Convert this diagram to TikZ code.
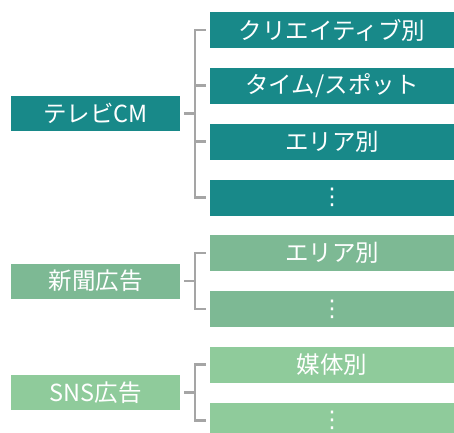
\documentclass[tikz,border=0pt]{standalone}
\usepackage{fontspec}
\setmainfont{Noto Sans CJK JP}
\newfontfamily\symfont{DejaVu Sans}
\definecolor{tvc}{RGB}{24,137,137}
\definecolor{npc}{RGB}{125,185,148}
\definecolor{snsc}{RGB}{143,203,155}
\definecolor{brc}{RGB}{165,165,165}
\begin{document}
\begin{tikzpicture}[x=1pt,y=-1pt,
  box/.style={rectangle, inner sep=0pt, text=white, font=\fontsize{23.5}{23.5}\selectfont},
  parent/.style={box, minimum width=169pt, minimum height=35pt},
  child/.style={box, minimum width=244pt, minimum height=36pt},
  dots/.style={font=\symfont\fontsize{23}{23}\selectfont},
  br/.style={draw=brc, line width=2.6pt, line join=miter, line cap=butt}]
\useasboundingbox (0,0) rectangle (454,432);
\clip (0,0) rectangle (454,432);
% parents
\node[parent, fill=tvc] (tv) at (95.5,113.5) {テレビCM};
\node[parent, fill=npc] (np) at (95.5,281) {新聞広告};
\node[parent, fill=snsc] (sns) at (95.5,392.5) {SNS広告};
% TV children
\node[child, fill=tvc] (t1) at (332,30) {クリエイティブ別};
\node[child, fill=tvc] (t2) at (332,85.5) {タイム/スポット};
\node[child, fill=tvc] (t3) at (332,141.5) {エリア別};
\node[child, fill=tvc, dots] (t4) at (332,197.5) {⋮};
% newspaper children
\node[child, fill=npc] (n1) at (332,253) {エリア別};
\node[child, fill=npc, dots] (n2) at (332,309) {⋮};
% SNS children
\node[child, fill=snsc] (s1) at (332,364.5) {媒体別};
\node[child, fill=snsc, dots] (s2) at (332,420.5) {⋮};
% brackets
\draw[br] ([xshift=-4pt]t1.west) -- ++(-11,0) |- ([xshift=-4pt]t4.west);
\draw[br] ([xshift=-15pt]t2.west) -- ([xshift=-4pt]t2.west);
\draw[br] ([xshift=-15pt]t3.west) -- ([xshift=-4pt]t3.west);
\draw[br] ([xshift=4pt]tv.east) -- ([xshift=15pt]tv.east);
\draw[br] ([xshift=-4pt]n1.west) -- ++(-11,0) |- ([xshift=-4pt]n2.west);
\draw[br] ([xshift=4pt]np.east) -- ([xshift=15pt]np.east);
\draw[br] ([xshift=-4pt]s1.west) -- ++(-11,0) |- ([xshift=-4pt]s2.west);
\draw[br] ([xshift=4pt]sns.east) -- ([xshift=15pt]sns.east);
\end{tikzpicture}
\end{document}
